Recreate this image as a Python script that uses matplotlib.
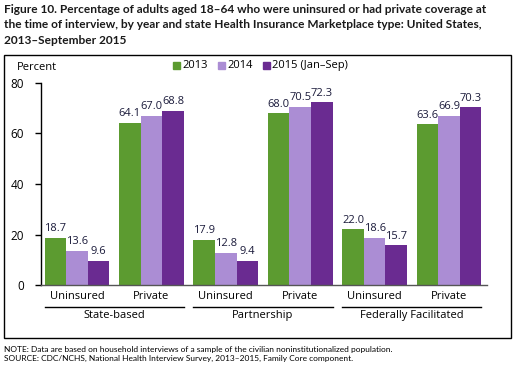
import matplotlib
matplotlib.use("Agg")
import numpy as np
from matplotlib import pyplot as plt
from matplotlib.patches import Rectangle

plt.rcParams['font.family'] = ['Open Sans', 'DejaVu Sans']

# Data
groups = ['State-based', 'Partnership', 'Federally Facilitated']
subgroups = ['Uninsured', 'Private']
years = ['2013', '2014', '2015 (Jan\u2013Sep)']
v2013 = [18.7, 64.1, 17.9, 68.0, 22.0, 63.6]
v2014 = [13.6, 67.0, 12.8, 70.5, 18.6, 66.9]
v2015 = [9.6, 68.8, 9.4, 72.3, 15.7, 70.3]
colors = ['#5c9b30', '#ab8dd4', '#6a2b91']
yticks = [0, 20, 40, 60, 80]

W, H = 524, 370
fig = plt.figure(figsize=(W / 100, H / 100), dpi=100)

# axes placement in pixels
ax_l, ax_r, ax_t, ax_b = 41, 487, 83, 285
ax = fig.add_axes([ax_l / W, 1 - ax_b / H, (ax_r - ax_l) / W, (ax_b - ax_t) / H])

x = np.arange(len(v2013))
bw = 0.29
series = [v2013, v2014, v2015]
for i, vals in enumerate(series):
    pos = x + (i - 1) * bw
    ax.bar(pos, vals, width=bw, color=colors[i], label=years[i])
    for p, v in zip(pos, vals):
        ax.text(p, v + 1.5, f'{v:.1f}', ha='center', va='bottom',
                fontsize=8, color='#1a1a3a')

ax.set_xlim(-0.483, 5.51)
ax.set_ylim(0, 80)
ax.set_yticks(yticks)
ax.tick_params(axis='y', direction='out', length=4, width=1, labelsize=8.5, pad=8)
ax.set_xticks([])
for s in ['top', 'right']:
    ax.spines[s].set_visible(False)
ax.spines['left'].set_linewidth(1)
ax.spines['bottom'].set_linewidth(1)
ax.spines['bottom'].set_color('#555555')

# subgroup and group labels
for i in range(len(x)):
    ax.text(x[i], -4.5, subgroups[i % 2], ha='center', va='center',
            fontsize=8, transform=ax.transData, clip_on=False)
for g, name in enumerate(groups):
    left = 2 * g - 1.5 * bw
    right = 2 * g + 1 + 1.5 * bw
    ax.plot([left, right], [-8.7, -8.7], color='black', lw=1, clip_on=False)
    ax.text((left + right) / 2, -12, name, ha='center', va='center',
            fontsize=8, clip_on=False)

# legend
leg_x = [173, 218, 263]
for lx, lab, c in zip(leg_x, years, colors):
    fig.patches.append(Rectangle((lx / W, 1 - 69 / H), 7 / W, 7 / H,
                                 transform=fig.transFigure, color=c))
    fig.text((lx + 9) / W, 1 - 65.5 / H, lab, fontsize=8, va='center')

fig.text(17 / W, 1 - 68 / H, 'Percent', fontsize=8, va='center')

# frame
fig.patches.append(Rectangle((4 / W, 1 - 338 / H), 507 / W, 283 / H,
                             transform=fig.transFigure, fill=False,
                             edgecolor='black', lw=1))

title = ('Figure 10. Percentage of adults aged 18\u201364 who were uninsured or had private coverage at\n'
         'the time of interview, by year and state Health Insurance Marketplace type: United States,\n'
         '2013\u2013September 2015')
fig.text(4 / W, 1 - 4 / H, title, fontsize=8.6, fontweight='bold', va='top',
         color='#1a1a1a', linespacing=1.5, family=['Lato', 'DejaVu Sans'])

note = ('NOTE: Data are based on household interviews of a sample of the civilian noninstitutionalized population.\n'
        'SOURCE: CDC/NCHS, National Health Interview Survey, 2013\u20132015, Family Core component.')
fig.text(4 / W, 1 - 346 / H, note, fontsize=6.0, va='top', linespacing=1.25,
         family=['Lato', 'DejaVu Sans'])

fig.savefig('out.png', dpi=100)
